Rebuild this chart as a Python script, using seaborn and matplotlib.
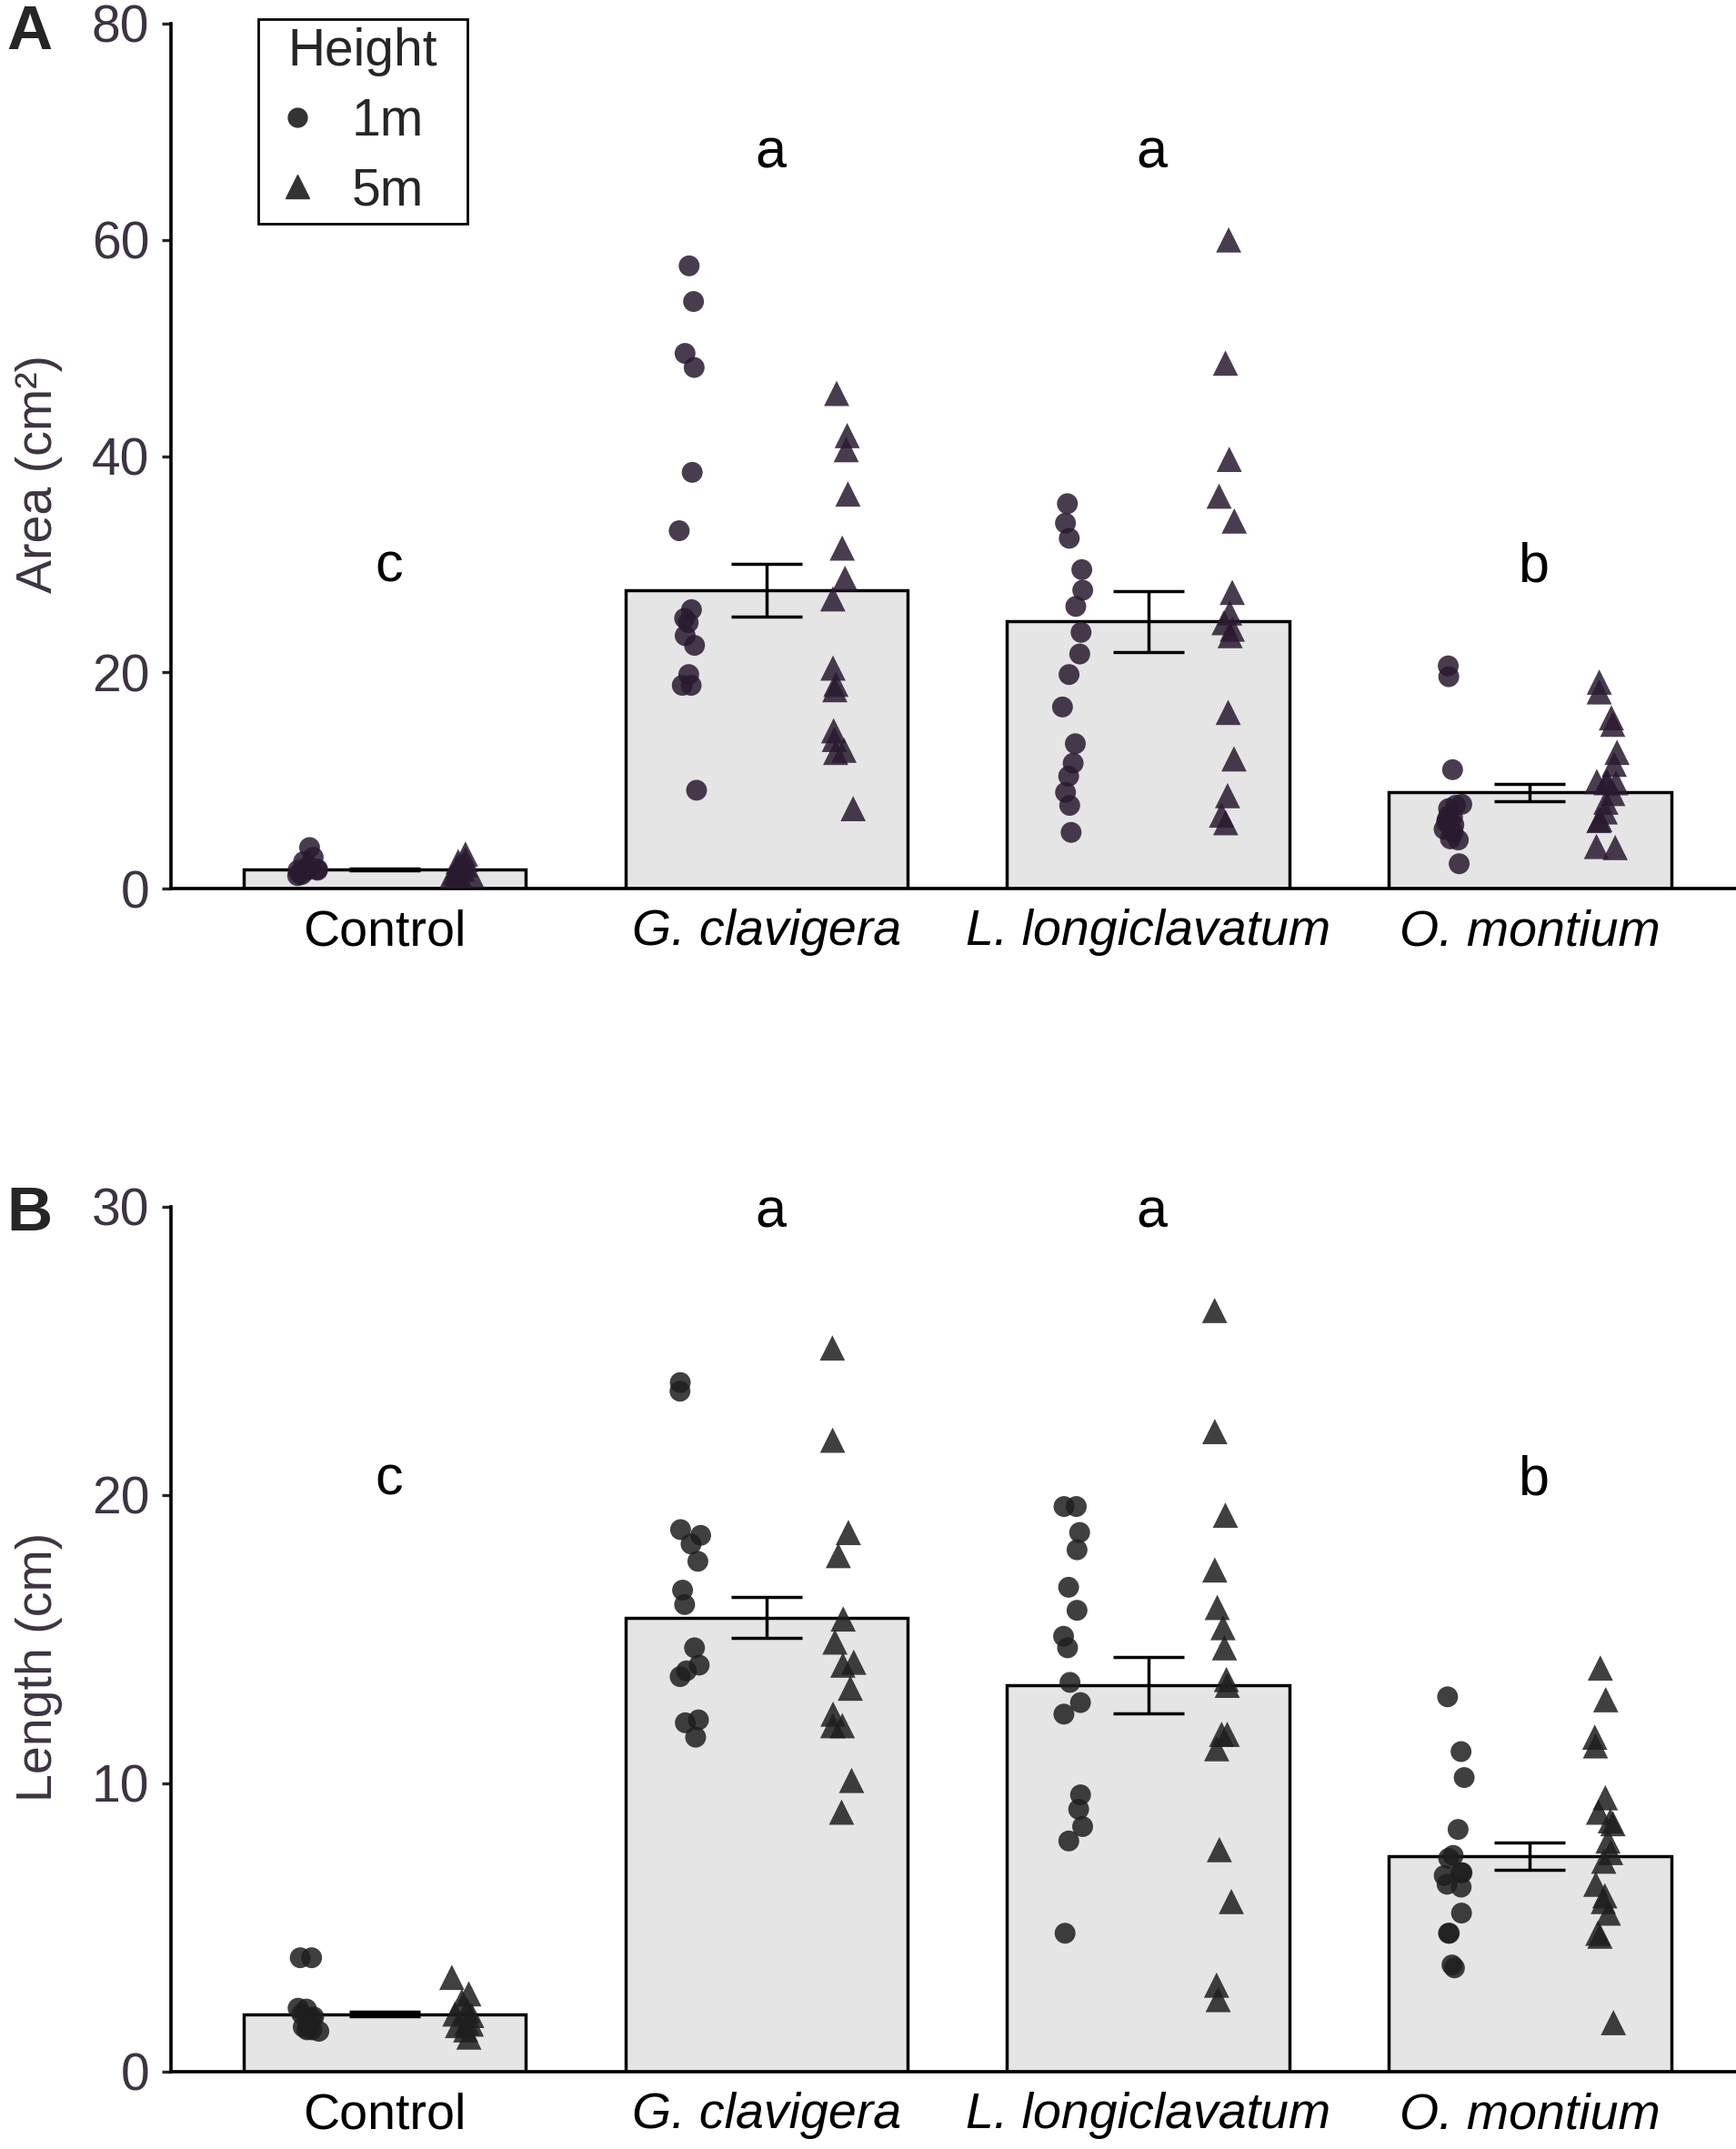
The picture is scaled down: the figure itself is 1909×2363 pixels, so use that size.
import numpy as np
import pandas as pd
from matplotlib import pyplot as plt
from matplotlib.lines import Line2D
import seaborn as sns

# categories
species = ["Control", "G. clavigera", "L. longiclavatum", "O. montium"]
heights = ["1m", "5m"]

# panel A: lesion area (cm2), one value per inoculated tree
area_ctrl_1m = [3.8, 2.9, 2.5, 2.1, 1.7, 1.8, 1.4, 1.3, 1.7, 1.7, 1.2]
area_ctrl_5m = [3.2, 2.7, 2.5, 2.2, 2.0, 1.8, 1.3, 1.2, 1.0, 1.5, 1.2]
area_gcla_1m = [57.6, 54.3, 49.5, 48.2, 38.5, 33.1, 25.8, 25.0, 24.6, 23.4, 22.5, 19.8, 18.8, 18.8, 9.1]
area_gcla_5m = [45.8, 41.9, 40.6, 36.5, 31.5, 28.7, 26.8, 20.4, 18.9, 18.4, 14.6, 13.8, 12.8, 12.6, 7.4]
area_llon_1m = [35.6, 33.8, 32.4, 29.5, 27.6, 26.1, 23.7, 21.7, 19.8, 16.8, 13.4, 11.6, 10.4, 8.9, 7.7, 5.2]
area_llon_5m = [60.0, 48.6, 39.7, 36.3, 34.0, 27.4, 25.5, 24.6, 24.0, 23.4, 16.3, 12.0, 8.6, 6.8, 6.1]
area_omon_1m = [20.6, 19.6, 11.0, 7.8, 7.7, 7.4, 6.7, 6.6, 6.3, 6.1, 5.9, 5.5, 5.2, 4.6, 4.5, 2.3]
area_omon_5m = [19.1, 18.2, 15.8, 15.2, 12.6, 11.5, 9.9, 9.9, 9.8, 9.8, 8.8, 8.0, 7.1, 6.4, 6.3, 3.9, 3.8]

# panel B: lesion length (cm)
len_ctrl_1m = [3.95, 3.95, 2.17, 2.2, 2.0, 1.9, 1.85, 1.65, 1.55, 1.45, 1.4, 1.45]
len_ctrl_5m = [3.27, 2.7, 2.44, 2.12, 2.0, 1.95, 1.69, 1.6, 1.65, 1.45, 1.2]
len_gcla_1m = [23.9, 23.6, 18.8, 18.6, 18.3, 17.7, 16.7, 16.2, 14.7, 14.1, 13.9, 13.7, 12.2, 12.1, 11.6]
len_gcla_5m = [25.1, 21.9, 18.7, 17.9, 15.7, 14.9, 14.2, 14.1, 13.3, 12.4, 12.0, 12.0, 10.1, 9.0]
len_llon_1m = [19.6, 19.6, 18.7, 18.1, 16.8, 16.0, 15.1, 14.7, 13.5, 12.8, 12.4, 9.6, 9.1, 8.5, 8.0, 4.8]
len_llon_5m = [26.4, 22.2, 19.3, 17.4, 16.1, 15.4, 14.7, 13.6, 13.4, 11.7, 11.7, 11.2, 7.7, 5.9, 3.0, 2.5]
len_omon_1m = [13.0, 11.1, 10.2, 8.4, 7.5, 7.4, 6.9, 6.9, 6.8, 6.5, 6.4, 5.5, 4.8, 4.8, 3.7, 3.6]
len_omon_5m = [14.0, 12.9, 11.6, 11.3, 9.5, 9.0, 8.7, 8.6, 8.0, 7.6, 7.3, 6.5, 6.1, 5.9, 5.5, 4.8, 4.7, 1.7]

# bar means and standard errors as drawn
area_mean = [1.75, 27.6, 24.7, 8.9]
area_se = [0.08, 2.45, 2.8, 0.8]
len_mean = [2.0, 15.75, 13.4, 7.47]
len_se = [0.07, 0.72, 0.97, 0.48]

# significance letters
area_letters = ["c", "a", "a", "b"]
len_letters = ["c", "a", "a", "b"]


def long_table(groups):
    rows = []
    for sp, g1, g5 in zip(species, groups[0::2], groups[1::2]):
        rows += [(sp, "1m", v) for v in g1]
        rows += [(sp, "5m", v) for v in g5]
    return pd.DataFrame(rows, columns=["Species", "Height", "value"])


area_df = long_table([area_ctrl_1m, area_ctrl_5m, area_gcla_1m, area_gcla_5m,
                      area_llon_1m, area_llon_5m, area_omon_1m, area_omon_5m])
len_df = long_table([len_ctrl_1m, len_ctrl_5m, len_gcla_1m, len_gcla_5m,
                     len_llon_1m, len_llon_5m, len_omon_1m, len_omon_5m])

sns.set_style("ticks")
plt.rcParams["font.family"] = ["Liberation Sans", "DejaVu Sans"]
np.random.seed(3)

label_col = "#3d3342"
fig = plt.figure(figsize=(19.09, 23.63), dpi=100)
axA = fig.add_axes([0.0985, 0.5865, 0.9015, 0.4025])
axB = fig.add_axes([0.0985, 0.0360, 0.9015, 0.4025])


def panel(ax, df, means, se, letters, letter_y, ymax, yticks, ylabel, pt_col, ylab_y):
    sns.barplot(x=species, y=means, order=species, color="#e5e5e5", saturation=1,
                edgecolor="black", linewidth=2.5, width=0.74, errorbar=None, ax=ax)
    ax.errorbar(np.arange(len(species)), means, yerr=se, fmt="none", ecolor="black",
                elinewidth=2.5, capsize=28, capthick=2.5, zorder=3)
    for h, mk, sz in [("1m", "o", 16.5), ("5m", "^", 20)]:
        sns.stripplot(data=df[df.Height == h], x="Species", y="value", order=species,
                      hue="Height", hue_order=heights, dodge=True, jitter=0.06,
                      palette={"1m": pt_col, "5m": pt_col}, marker=mk, size=sz,
                      alpha=0.85, linewidth=0, legend=False, ax=ax, zorder=4)
    for i, (lt, ly) in enumerate(zip(letters, letter_y)):
        ax.text(i + 0.01, ly, lt, ha="center", va="baseline", fontsize=44, color="black")

    ax.set_xlim(-0.56, 3.54)
    ax.set_ylim(0, ymax)
    ax.set_yticks(yticks)
    ax.set_xlabel("")
    ax.set_ylabel(ylabel, fontsize=40, color=label_col)
    ax.yaxis.set_label_coords(-0.069, ylab_y)
    ax.set_xticks(range(len(species)))
    ax.set_xticklabels(species)
    for t in ax.get_xticklabels()[1:]:
        t.set_style("italic")
    ax.tick_params(axis="y", length=7, width=2.4, pad=10, labelsize=41, labelcolor=label_col)
    ax.tick_params(axis="x", length=0, pad=16, labelsize=40, labelcolor="black")
    sns.despine(ax=ax)
    for s in ["left", "bottom"]:
        ax.spines[s].set_linewidth(2.6)
        ax.spines[s].set_color("black")


panel(axA, area_df, area_mean, area_se, area_letters, [28.4, 66.7, 66.7, 28.4],
      80, [0, 20, 40, 60, 80], "Area (cm²)", "#2a1a30", 0.48)
panel(axB, len_df, len_mean, len_se, len_letters, [20.0, 29.3, 29.3, 20.0],
      30, [0, 10, 20, 30], "Length (cm)", "#1e1e1e", 0.468)

handles = [Line2D([], [], marker="o", color="#333333", linestyle="none", markersize=15),
           Line2D([], [], marker="^", color="#333333", linestyle="none", markersize=19)]
leg = axA.legend(handles, heights, title="Height", loc="upper left",
                 bbox_to_anchor=(0.0558, 0.70, 0.1336, 0.305), mode="expand",
                 borderaxespad=0, fontsize=41, title_fontsize=41, frameon=True,
                 fancybox=False, edgecolor="black", framealpha=1,
                 handlelength=1.2, handletextpad=0.45, borderpad=0.15,
                 labelspacing=0.4)
leg.get_frame().set_linewidth(2)

fig.text(0.004, 0.9770, "A", fontsize=50, fontweight="bold", va="baseline")
fig.text(0.004, 0.4275, "B", fontsize=50, fontweight="bold", va="baseline")

fig.savefig("out.png", dpi=100)
